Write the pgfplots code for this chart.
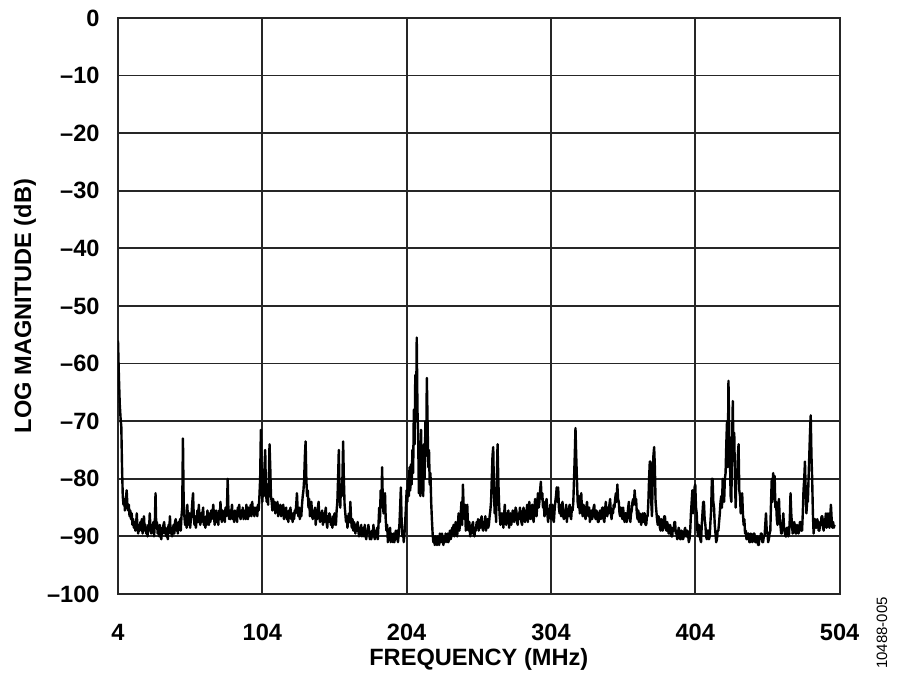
\documentclass[border=0pt]{standalone}
\usepackage{fontspec}
\setmainfont{Liberation Sans}
\usepackage{pgfplots}
\pgfplotsset{compat=1.18}
\begin{document}
\begin{tikzpicture}
\path[use as bounding box] (-59pt,-43pt) rectangle (391pt,297pt);
\begin{axis}[
 at={(0,0)}, anchor=south west,
 scale only axis, width=360.8pt, height=288pt,
 xmin=4, xmax=504, ymin=-100, ymax=0,
 xtick={4,104,204,304,404,504},
 ytick={0,-10,-20,-30,-40,-50,-60,-70,-80,-90,-100},
 yticklabels={0,–10,–20,–30,–40,–50,–60,–70,–80,–90,–100},
 grid=major,
 major grid style={black!85, line width=0.9pt},
 axis line style={black!85, line width=1pt},
 major tick length=0pt,
 tick label style={font=\fontsize{11.8}{14}\selectfont\bfseries},
 xticklabel style={anchor=center, yshift=-19pt},
 yticklabel style={anchor=east, inner sep=0pt, xshift=-9pt},
 every axis x label/.style={at={(axis description cs:0.5,0)}, anchor=center, yshift=-32.5pt, font=\fontsize{11.8}{14}\selectfont\bfseries},
 every axis y label/.style={at={(axis description cs:-0.129,0.5)}, anchor=center, rotate=90, font=\fontsize{11.8}{14}\selectfont\bfseries},
 xlabel={FREQUENCY (MHz)},
 ylabel={LOG MAGNITUDE (dB)},
 /pgf/number format/assume math mode=true,
]
\addplot[black, line width=1.2pt, line join=round] coordinates {
(4,-56)(4.6,-62)(5.2,-67)(5.8,-69.5)(6.3,-71)(6.8,-78)(7.3,-83)(7.8,-84.5)(8.3,-83.5)(8.8,-85.5)(9.3,-84)(10,-82)(10.5,-84.5)(11,-85.5)(11.5,-84.5)(12,-86.5)(12.5,-85.5)(13,-87)(13.5,-86)(14,-88)(14.5,-87)(15,-88.5)(15.5,-87.5)(16,-89)(16.5,-88)(17,-86)(17.5,-88.5)(18,-89.5)(18.5,-88)(19,-89)(19.5,-87.5)(20,-88.5)(20.5,-87)
(21,-89.5)(21.5,-88)(22,-86.5)(22.5,-89)(23,-88)(23.5,-89.5)(24,-88.5)(24.5,-90)(25,-88)(25.5,-89)(26,-86)(26.5,-88.5)(27,-89.5)(27.5,-88)(28,-89)(28.5,-87.5)(29,-90)(29.5,-88)(30,-82.5)(30.5,-88.5)(31,-87.5)(31.5,-89.5)(32,-88.5)(32.5,-90)(33,-88)(33.5,-89.5)(34,-90.5)(34.5,-88.5)(35,-89.5)(35.5,-88)(36,-87.5)(36.5,-89.5)(37,-88.5)(37.5,-90)(38,-89)(38.5,-90.5)(39,-88)(39.5,-89)(40,-86.5)(40.5,-89.5)(41,-88.5)(41.5,-90)(42,-89)(42.5,-88)(43,-89.5)(43.5,-87.5)(44,-87)(44.5,-89)(45,-88)(45.5,-89.5)(46,-87.5)(46.5,-88.5)(47,-87)(47.5,-89)(48,-86.5)(48.5,-85)(49,-73)(49.5,-84)(50,-86.5)(50.5,-88)
(51,-86.5)(51.5,-88.5)(52,-84.5)(52.5,-87)(53,-88)(53.5,-86)(54,-88.5)(54.5,-87)(55,-86)(55.5,-84)(56,-82.5)(56.5,-86.5)(57,-88)(57.5,-86.5)(58,-88.5)(58.5,-87)(59,-85.5)(59.5,-87.5)(60,-84.5)(60.5,-87)(61,-88)(61.5,-86)(62,-87.5)(62.5,-86)(63,-85)(63.5,-88)(64,-87)(64.5,-88.5)(65,-86.5)(65.5,-88)(66,-85.5)(66.5,-87.5)(67,-88)(67.5,-86)(68,-87.5)(68.5,-85.5)(69,-87)(69.5,-86)(70,-84.5)(70.5,-86.5)(71,-88)(71.5,-86.5)(72,-85.5)(72.5,-87.5)(73,-86.5)(73.5,-88)(74,-85.5)(74.5,-87)(75,-84)(75.5,-86.5)(76,-87.5)(76.5,-85.5)(77,-87)(77.5,-86)(78,-87.5)(78.5,-85)(79,-86.5)(79.5,-85)(80,-80)(80.5,-85.5)
(81,-87)(81.5,-85.5)(82,-87)(82.5,-86)(83,-84.5)(83.5,-87)(84,-86)(84.5,-87.5)(85,-85.5)(85.5,-87)(86,-86)(86.5,-87.5)(87,-85)(87.5,-86.5)(88,-84.5)(88.5,-86.5)(89,-87)(89.5,-85.5)(90,-86.5)(90.5,-85)(91,-87)(91.5,-86)(92,-85.5)(92.5,-87)(93,-84.5)(93.5,-86.5)(94,-87)(94.5,-85)(95,-86.5)(95.5,-85.5)(96,-84.5)(96.5,-86.5)(97,-84)(97.5,-86)(98,-85)(98.5,-86.5)(99,-85)(99.5,-86)(100,-85)(100.5,-86.5)(101,-84.5)(101.5,-85.5)(102,-83)(102.5,-80)(103,-71.5)(103.5,-78)(104,-84)(104.5,-80)(105,-83)(105.5,-78)(106,-75)(106.5,-82)(107,-84)(107.5,-81)(108,-84.5)(108.5,-80)(109,-74)(109.5,-78)(110,-83)(110.5,-84)
(111,-85.5)(111.5,-83.5)(112,-85)(112.5,-84)(113,-86)(113.5,-84.5)(114,-85.5)(114.5,-84)(115,-86.5)(115.5,-85)(116,-86)(116.5,-84.5)(117,-86.5)(117.5,-85)(118,-86)(118.5,-84.5)(119,-87)(119.5,-85.5)(120,-86.5)(120.5,-85)(121,-87)(121.5,-86)(122,-87.5)(122.5,-85.5)(123,-86)(123.5,-85)(124,-87)(124.5,-86)(125,-87.5)(125.5,-86)(126,-87)(126.5,-85.5)(127,-86)(127.5,-84.5)(128,-82.5)(128.5,-85.5)(129,-86.5)(129.5,-85)(130,-87)(130.5,-85.5)(131,-86.5)(131.5,-84.5)(132,-83)(132.5,-82)(133,-80)(133.5,-76)(134,-73.5)(134.5,-80)(135,-83)(135.5,-82)(136,-85)(136.5,-83.5)(137,-86.5)(137.5,-85)(138,-84)(138.5,-86.5)(139,-87)(139.5,-85.5)(140,-86.5)(140.5,-85)
(141,-88)(141.5,-86)(142,-87)(142.5,-85)(143,-84)(143.5,-86.5)(144,-87.5)(144.5,-86)(145,-87)(145.5,-85.5)(146,-88)(146.5,-86.5)(147,-87.5)(147.5,-86)(148,-85)(148.5,-87.5)(149,-88.5)(149.5,-86.5)(150,-87.5)(150.5,-86)(151,-86.5)(151.5,-88)(152,-87)(152.5,-88.5)(153,-86.5)(153.5,-88)(154,-86)(154.5,-87.5)(155,-88)(155.5,-85.5)(156,-84)(156.5,-80)(157,-75)(157.5,-82)(158,-85)(158.5,-81)(159,-83)(159.5,-80)(160,-73.5)(160.5,-80)(161,-84.5)(161.5,-86)(162,-87.5)(162.5,-86.5)(163,-88.5)(163.5,-87)(164,-86)(164.5,-87.5)(165,-84)(165.5,-87)(166,-88.5)(166.5,-87)(167,-89)(167.5,-87.5)(168,-88)(168.5,-89.5)(169,-88)(169.5,-89)(170,-87.5)(170.5,-89)
(171,-90)(171.5,-88.5)(172,-89)(172.5,-88)(173,-90)(173.5,-89)(174,-88.5)(174.5,-90)(175,-88)(175.5,-89.5)(176,-90.5)(176.5,-89)(177,-89.5)(177.5,-88)(178,-89)(178.5,-90.5)(179,-89.5)(179.5,-90.5)(180,-89)(180.5,-90)(181,-88)(181.5,-90)(182,-90.5)(182.5,-89)(183,-90)(183.5,-88.5)(184,-90.5)(184.5,-88)(185,-85)(185.5,-87.5)(186,-82)(186.5,-85)(187,-78)(187.5,-84)(188,-86)(188.5,-83)(189,-82.5)(189.5,-87)(190,-89)(190.5,-88)(191,-91)(191.5,-89.5)(192,-90)(192.5,-88.5)(193,-91)(193.5,-89.5)(194,-90)(194.5,-91)(195,-89.5)(195.5,-91)(196,-90)(196.5,-89)(197,-90.5)(197.5,-89)(198,-91)(198.5,-89.5)(199,-88)(199.5,-85)(200,-81.5)(200.5,-87)
(201,-90)(201.5,-89)(202,-91)(202.5,-89.5)(203,-87.5)(203.5,-85)(204,-82)(204.5,-84)(205,-80)(205.5,-83)(206,-78)(206.5,-82)(207,-77.5)(207.5,-81)(208,-75)(208.5,-79)(209,-68)(209.5,-74)(210,-62)(210.5,-70)(211,-55.5)(211.5,-68)(212,-73)(212.5,-82.5)(213,-76)(213.5,-83)(214,-71.5)(214.5,-80)(215,-76)(215.5,-83)(216,-74)(216.5,-80)(217,-70)(217.5,-76)(218,-62.5)(218.5,-70)(219,-78)(219.5,-75)(220,-81)(220.5,-79)(221,-84)(221.5,-87)(222,-89.5)(222.5,-91)(223,-90)(223.5,-91.5)(224,-90)(224.5,-91)(225,-91.5)(225.5,-90)(226,-90.5)(226.5,-91.5)(227,-89.5)(227.5,-91)(228,-91)(228.5,-89.5)(229,-90.5)(229.5,-91.5)(230,-90)(230.5,-91)
(231,-89.5)(231.5,-90.5)(232,-91)(232.5,-89.5)(233,-91)(233.5,-90)(234,-89)(234.5,-90.5)(235,-90)(235.5,-88.5)(236,-89.5)(236.5,-88)(237,-90)(237.5,-88.5)(238,-87.5)(238.5,-89.5)(239,-90)(239.5,-88)(240,-86)(240.5,-89)(241,-88)(241.5,-86)(242,-84)(242.5,-88)(243,-81)(243.5,-85)(244,-87)(244.5,-84.5)(245,-89)(245.5,-87)(246,-84.5)(246.5,-88)(247,-89)(247.5,-87.5)(248,-90)(248.5,-88.5)(249,-89.5)(249.5,-88)(250,-87.5)(250.5,-89.5)(251,-90)(251.5,-88.5)(252,-89)(252.5,-87.5)(253,-88.5)(253.5,-87)(254,-89)(254.5,-88)(255,-88.5)(255.5,-87)(256,-86.5)(256.5,-88.5)(257,-89)(257.5,-87.5)(258,-88)(258.5,-86.5)(259,-89)(259.5,-87.5)(260,-87)(260.5,-88.5)
(261,-88)(261.5,-86.5)(262,-85.5)(262.5,-84)(263,-80)(263.5,-76)(264,-74.5)(264.5,-82)(265,-86)(265.5,-84)(266,-87.5)(266.5,-80)(267,-74)(267.5,-80)(268,-84)(268.5,-86.5)(269,-88)(269.5,-86)(270,-87.5)(270.5,-86)(271,-88.5)(271.5,-86.5)(272,-84.5)(272.5,-87)(273,-88)(273.5,-86)(274,-87.5)(274.5,-85.5)(275,-88.5)(275.5,-87)(276,-86)(276.5,-88)(277,-87)(277.5,-85.5)(278,-86)(278.5,-87.5)(279,-86.5)(279.5,-85)(280,-85.5)(280.5,-87.5)(281,-88)(281.5,-86)(282,-87)(282.5,-85)(283,-86)(283.5,-87.5)(284,-88)(284.5,-86)(285,-85)(285.5,-87)(286,-87.5)(286.5,-85.5)(287,-86)(287.5,-84.5)(288,-87.5)(288.5,-86)(289,-84)(289.5,-86.5)(290,-87)(290.5,-85)
(291,-84.5)(291.5,-86.5)(292,-87.5)(292.5,-85.5)(293,-83.5)(293.5,-86)(294,-86.5)(294.5,-84.5)(295,-82.5)(295.5,-85)(296,-84)(296.5,-82)(297,-80.5)(297.5,-83.5)(298,-82.5)(298.5,-85)(299,-84)(299.5,-86.5)(300,-86)(300.5,-84)(301,-83.5)(301.5,-86)(302,-87.5)(302.5,-85.5)(303,-86)(303.5,-84.5)(304,-87)(304.5,-85)(305,-84.5)(305.5,-87)(306,-87.5)(306.5,-85.5)(307,-84)(307.5,-83)(308,-81.5)(308.5,-84)(309,-81.5)(309.5,-85)(310,-86)(310.5,-84.5)(311,-86.5)(311.5,-85)(312,-84)(312.5,-86.5)(313,-87)(313.5,-85.5)(314,-86)(314.5,-84.5)(315,-87.5)(315.5,-86)(316,-86.5)(316.5,-85)(317,-84.5)(317.5,-86.5)(318,-87)(318.5,-85)(319,-85.5)(319.5,-84)(320,-80)(320.5,-76)
(321,-71.2)(321.5,-76)(322,-80)(322.5,-84)(323,-85)(323.5,-83)(324,-86)(324.5,-84.5)(325,-82.5)(325.5,-85.5)(326,-86.5)(326.5,-84.5)(327,-85)(327.5,-86.5)(328,-87)(328.5,-85)(329,-84)(329.5,-86)(330,-86.5)(330.5,-85)(331,-87.5)(331.5,-86)(332,-85.5)(332.5,-87)(333,-86.5)(333.5,-85)(334,-84.5)(334.5,-86.5)(335,-87)(335.5,-85.5)(336,-86)(336.5,-87.5)(337,-87.5)(337.5,-86)(338,-85.5)(338.5,-87)(339,-86.5)(339.5,-85)(340,-85)(340.5,-87)(341,-87.5)(341.5,-85.5)(342,-84)(342.5,-86)(343,-86.5)(343.5,-85)(344,-86)(344.5,-84.5)(345,-83.5)(345.5,-86)(346,-87)(346.5,-85.5)(347,-86)(347.5,-84.5)(348,-85)(348.5,-83.5)(349,-82.5)(349.5,-84)(350,-81)(350.5,-83.5)
(351,-84)(351.5,-86)(352,-86.5)(352.5,-85)(353,-85.5)(353.5,-87)(354,-85)(354.5,-86.5)(355,-87.5)(355.5,-86)(356,-86)(356.5,-87.5)(357,-86.5)(357.5,-85)(358,-84)(358.5,-86.5)(359,-87.5)(359.5,-86)(360,-85.5)(360.5,-84)(361,-83.5)(361.5,-84.5)(362,-82)(362.5,-84)(363,-83.5)(363.5,-86)(364,-87)(364.5,-85.5)(365,-87.5)(365.5,-86)(366,-86.5)(366.5,-88)(367,-87)(367.5,-86)(368,-87.5)(368.5,-86)(369,-86)(369.5,-88)(370,-88)(370.5,-86.5)(371,-86.5)(371.5,-84)(372,-80)(372.5,-77)(373,-77)(373.5,-84)(374,-86.5)(374.5,-80)(375,-76)(375.5,-74.5)(376,-78)(376.5,-84)(377,-85.5)(377.5,-87)(378,-88)(378.5,-86.5)(379,-87)(379.5,-88.5)(380,-89)(380.5,-87)
(381,-87.5)(381.5,-89)(382,-88)(382.5,-86.5)(383,-86.5)(383.5,-88.5)(384,-89)(384.5,-87.5)(385,-88)(385.5,-89.5)(386,-89.5)(386.5,-88)(387,-88.5)(387.5,-90)(388,-90)(388.5,-88.5)(389,-89)(389.5,-87.5)(390,-87.5)(390.5,-89.5)(391,-89.5)(391.5,-90.5)(392,-89.5)(392.5,-88.5)(393,-89)(393.5,-90.5)(394,-90.5)(394.5,-89)(395,-89.5)(395.5,-90.5)(396,-90)(396.5,-89)(397,-88.5)(397.5,-90)(398,-90)(398.5,-89)(399,-89.5)(399.5,-91)(400,-90.5)(400.5,-89)(401,-86)(401.5,-84)(402,-82)(402.5,-86)(403,-84)(403.5,-81.5)(404,-81)(404.5,-85)(405,-86)(405.5,-89)(406,-90)(406.5,-88)(407,-88.5)(407.5,-90.5)(408,-91)(408.5,-88)(409,-86)(409.5,-84)(410,-84)(410.5,-87)
(411,-88)(411.5,-90)(412,-90.5)(412.5,-89)(413,-89)(413.5,-90.5)(414,-90)(414.5,-87.5)(415,-85.5)(415.5,-80)(416,-80)(416.5,-84)(417,-85)(417.5,-88)(418,-89.5)(418.5,-91)(419,-90.5)(419.5,-89)(420,-89)(420.5,-87.5)(421,-86)(421.5,-84)(422,-83)(422.5,-85)(423,-80)(423.5,-83)(424,-84)(424.5,-80)(425,-79)(425.5,-74)(426,-70)(426.5,-78)(427,-63)(427.5,-72)(428,-76)(428.5,-83)(429,-84)(429.5,-74)(430,-66.5)(430.5,-76)(431,-72)(431.5,-80)(432,-85)(432.5,-79)(433,-80)(433.5,-76)(434,-74)(434.5,-82)(435,-83)(435.5,-86)(436,-85)(436.5,-82.5)(437,-86)(437.5,-88)(438,-87)(438.5,-89.5)(439,-89)(439.5,-90.5)(440,-90.5)(440.5,-89.5)
(441,-89.5)(441.5,-91)(442,-91)(442.5,-89.5)(443,-90)(443.5,-91)(444,-90.5)(444.5,-89.5)(445,-89.5)(445.5,-91)(446,-91)(446.5,-90)(447,-90)(447.5,-91.5)(448,-91.5)(448.5,-90)(449,-90.5)(449.5,-89.5)(450,-89.5)(450.5,-91)(451,-91)(451.5,-90)(452,-90)(452.5,-88)(453,-86)(453.5,-89)(454,-89.5)(454.5,-91)(455,-90.5)(455.5,-89.5)(456,-89)(456.5,-84)(457,-80)(457.5,-84)(458,-79)(458.5,-82)(459,-79.5)(459.5,-85)(460,-84)(460.5,-87)(461,-88)(461.5,-86)(462,-83.5)(462.5,-87)(463,-88)(463.5,-89.5)(464,-89.5)(464.5,-88)(465,-86)(465.5,-88.5)(466,-89)(466.5,-90)(467,-90)(467.5,-88.5)(468,-88.5)(468.5,-90)(469,-89.5)(469.5,-87)(470,-82.5)(470.5,-86)
(471,-88)(471.5,-89.5)(472,-89)(472.5,-87.5)(473,-88)(473.5,-89.5)(474,-89.5)(474.5,-88)(475,-88.5)(475.5,-89.5)(476,-89)(476.5,-87.5)(477,-87.5)(477.5,-89)(478,-89)(478.5,-86)(479,-82)(479.5,-80)(480,-77)(480.5,-82)(481,-86)(481.5,-84)(482,-84)(482.5,-80)(483,-76)(483.5,-72)(484,-69)(484.5,-76)(485,-80)(485.5,-86)(486,-89.5)(486.5,-88)(487,-87)(487.5,-88.5)(488,-88.5)(488.5,-87)(489,-87.5)(489.5,-89)(490,-89)(490.5,-87.5)(491,-88)(491.5,-86.5)(492,-86.5)(492.5,-88.5)(493,-89)(493.5,-87)(494,-87.5)(494.5,-86)(495,-88.5)(495.5,-87)(496,-86)(496.5,-88)(497,-88.5)(497.5,-86.5)(498,-84.5)(498.5,-87)(499,-88.5)(499.5,-87.5)(500,-88.5)(500.5,-88)
};
\end{axis}
\node[rotate=90, font=\fontsize{7.5}{9}\selectfont] at (382pt,-19.5pt) {10488-005};
\end{tikzpicture}
\end{document}
